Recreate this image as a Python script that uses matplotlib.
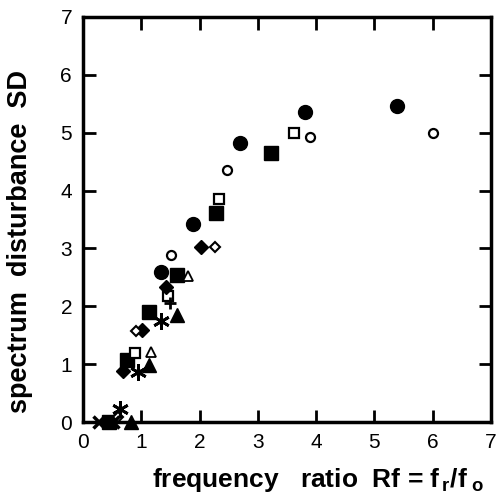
import matplotlib
matplotlib.use('Agg')
import matplotlib.pyplot as plt

plt.rcParams['font.family'] = ['Liberation Sans', 'DejaVu Sans']

# values, grouped by marker
fc_x = [1.34, 1.89, 2.69, 3.81, 5.39]
fc_y = [2.59, 3.42, 4.82, 5.35, 5.47]
oc_x = [1.51, 2.47, 3.89, 6.00]
oc_y = [2.88, 4.35, 4.92, 4.99]
fs_x = [0.45, 0.75, 1.13, 1.61, 2.28, 3.22]
fs_y = [0.00, 1.07, 1.90, 2.54, 3.61, 4.65]
os_x = [0.89, 1.46, 2.33, 3.62]
os_y = [1.19, 2.18, 3.85, 4.99]
fd_x = [0.36, 0.69, 1.01, 1.42, 2.02]
fd_y = [0.00, 0.88, 1.59, 2.33, 3.02]
od_x = [0.60, 0.91, 2.26]
od_y = [0.08, 1.57, 3.02]
ft_x = [0.82, 1.13, 1.61]
ft_y = [0.00, 0.98, 1.85]
ot_x = [1.17, 1.80]
ot_y = [1.21, 2.52]
ast_x = [0.63, 0.94, 1.34]
ast_y = [0.22, 0.86, 1.74]
plus_x = [1.49]
plus_y = [2.06]
cross_x = [0.27, 0.52]
cross_y = [0.00, 0.00]

fig = plt.figure(figsize=(5.04, 5.0), dpi=100)
ax = fig.add_axes([0.165, 0.156, 0.809, 0.81])

ax.plot(fc_x, fc_y, 'o', color='k', ms=10, ls='none', clip_on=False)
ax.plot(oc_x, oc_y, 'o', mfc='white', mec='k', mew=1.6, ms=6.5, ls='none')
ax.plot(fs_x, fs_y, 's', color='k', ms=9.5, ls='none', clip_on=False)
ax.plot(os_x, os_y, 's', mfc='white', mec='k', mew=1.6, ms=6.5, ls='none')
ax.plot(fd_x, fd_y, 'D', color='k', ms=7.5, ls='none', clip_on=False)
ax.plot(od_x, od_y, 'D', mfc='white', mec='k', mew=1.5, ms=5.5, ls='none', clip_on=False)
ax.plot(ft_x, ft_y, '^', color='k', ms=10, ls='none', clip_on=False)
ax.plot(ot_x, ot_y, '^', mfc='white', mec='k', mew=1.3, ms=7, ls='none')
ax.plot(ast_x, ast_y, marker=(6, 2, 0), color='k', mew=2, ms=12, ls='none', clip_on=False)
ax.plot(plus_x, plus_y, '+', color='k', mew=2, ms=9, ls='none')
ax.plot(cross_x, cross_y, 'x', color='k', mew=2.5, ms=8, ls='none', clip_on=False)

ax.set_xlim(0, 7)
ax.set_ylim(0, 7)
ax.set_xticks(range(0, 8))
ax.set_yticks(range(0, 8))
ax.tick_params(direction='in', length=9, width=2, labelsize=15, pad=8,
               top=True, right=True)
for s in ax.spines.values():
    s.set_linewidth(2.5)

ax.set_xlabel(r'frequency   ratio  Rf = f$_{\mathregular{\,r}}$/f$_{\mathregular{\;o}}$',
              fontsize=19, fontweight='bold', labelpad=10, x=0.575)
ax.set_ylabel('spectrum  disturbance  SD', fontsize=19.5, fontweight='bold',
              labelpad=20, y=0.445)

plt.savefig('out.png', dpi=100)
